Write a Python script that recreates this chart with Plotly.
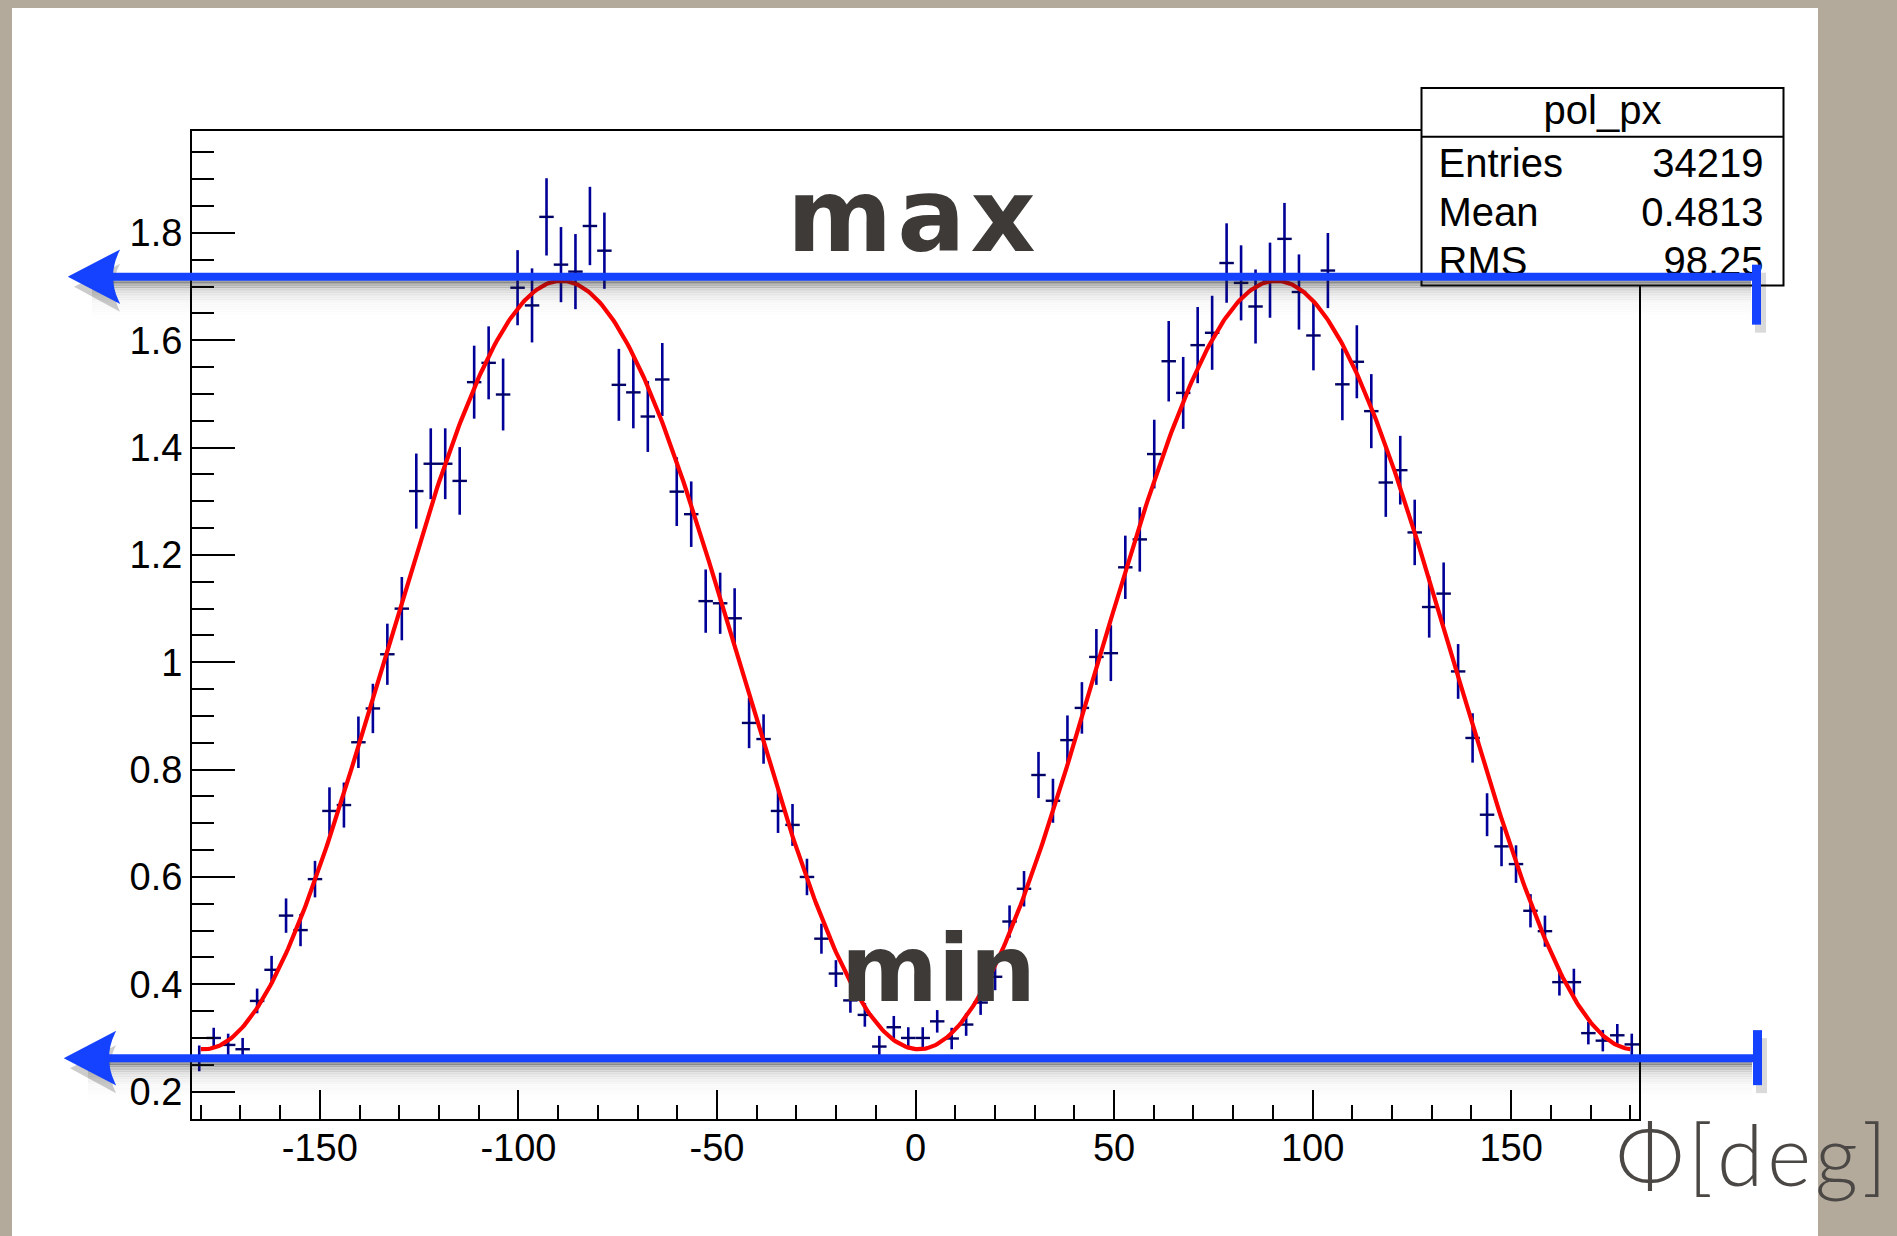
import numpy as np
import plotly.graph_objects as go

# ---------------- data ----------------
X_MIN, X_MAX, N_BINS = -182.2, 182.2, 100
Y_MIN, Y_MAX = 0.149, 1.990

values = [
    0.262, 0.300, 0.287, 0.279, 0.369, 0.427, 0.528, 0.501, 0.596, 0.723,
    0.734, 0.851, 0.914, 1.015, 1.100, 1.319, 1.370, 1.370, 1.338, 1.522,
    1.558, 1.499, 1.698, 1.665, 1.830, 1.741, 1.728, 1.813, 1.767, 1.517,
    1.503, 1.458, 1.527, 1.318, 1.276, 1.114, 1.110, 1.082, 0.887, 0.857,
    0.723, 0.697, 0.600, 0.485, 0.420, 0.370, 0.343, 0.284, 0.320, 0.300,
    0.300, 0.331, 0.299, 0.325, 0.366, 0.414, 0.517, 0.578, 0.790, 0.742,
    0.855, 0.915, 1.010, 1.017, 1.177, 1.229, 1.388, 1.561, 1.502, 1.591,
    1.614, 1.744, 1.707, 1.663, 1.712, 1.789, 1.690, 1.609, 1.730, 1.518,
    1.560, 1.468, 1.335, 1.358, 1.242, 1.103, 1.128, 0.983, 0.859, 0.716,
    0.657, 0.624, 0.537, 0.499, 0.404, 0.404, 0.309, 0.295, 0.305, 0.288,
]
errors = [
    0.024, 0.019, 0.021, 0.021, 0.023, 0.026, 0.032, 0.030, 0.034, 0.044,
    0.042, 0.048, 0.046, 0.057, 0.059, 0.070, 0.066, 0.066, 0.063, 0.068,
    0.068, 0.067, 0.070, 0.069, 0.072, 0.070, 0.070, 0.073, 0.071, 0.067,
    0.067, 0.066, 0.068, 0.064, 0.061, 0.059, 0.057, 0.056, 0.047, 0.046,
    0.041, 0.039, 0.034, 0.028, 0.025, 0.023, 0.022, 0.020, 0.021, 0.020,
    0.020, 0.021, 0.020, 0.021, 0.023, 0.025, 0.030, 0.033, 0.043, 0.041,
    0.046, 0.048, 0.052, 0.052, 0.059, 0.060, 0.064, 0.075, 0.067, 0.071,
    0.069, 0.074, 0.070, 0.069, 0.070, 0.067, 0.070, 0.065, 0.070, 0.067,
    0.068, 0.069, 0.064, 0.064, 0.061, 0.057, 0.058, 0.051, 0.046, 0.040,
    0.037, 0.035, 0.031, 0.029, 0.025, 0.025, 0.021, 0.020, 0.021, 0.020,
]

# fit function parameters  f = p0 - p1*cos(2*(phi - p2))
FIT_P0, FIT_P1, FIT_P2 = 0.995, 0.716, 0.8
FIT_RANGE = (-180, 180)

x_tickvals = [-150, -100, -50, 0, 50, 100, 150]
x_ticktext = ["-150", "-100", "-50", "0", "50", "100", "150"]
y_tickvals = [0.2, 0.4, 0.6, 0.8, 1.0, 1.2, 1.4, 1.6, 1.8]
y_ticktext = ["0.2", "0.4", "0.6", "0.8", "1", "1.2", "1.4", "1.6", "1.8"]

stats_title = "pol_px"
stats_rows = [("Entries", "34219"), ("Mean", "0.4813"), ("RMS", "98.25")]

MAX_LEVEL, MIN_LEVEL = 1.7186, 0.2624

# ---------------- geometry ----------------
W, H = 1897, 1236
PLOT_L, PLOT_R, PLOT_T, PLOT_B = 192, 1639, 131, 1119
PLOT_W, PLOT_H = PLOT_R - PLOT_L, PLOT_B - PLOT_T


def X(p):
    return (p - PLOT_L) / PLOT_W


def Y(p):
    return (PLOT_B - p) / PLOT_H


bin_width = (X_MAX - X_MIN) / N_BINS
bin_centers = [X_MIN + (i + 0.5) * bin_width for i in range(N_BINS)]

phi_fit = np.linspace(FIT_RANGE[0], FIT_RANGE[1], 721)
fit_y = FIT_P0 - FIT_P1 * np.cos(np.radians(2 * (phi_fit - FIT_P2)))

DATA_COLOR = "#000099"
BLUE = "#1442ff"
BG = "#b4aa9b"
TEXT_DARK = "#3d3a37"
FONT = "Liberation Sans, Arial, Helvetica, sans-serif"

fig = go.Figure()
fig.add_trace(go.Scatter(
    x=bin_centers, y=values, mode="markers",
    marker=dict(size=1, color=DATA_COLOR, opacity=0),
    error_y=dict(type="data", array=errors, color=DATA_COLOR, thickness=2.6, width=0),
    error_x=dict(type="data", array=[bin_width / 2] * N_BINS, color="#000066",
                 thickness=2.4, width=0),
    hoverinfo="skip", showlegend=False,
))
fig.add_trace(go.Scatter(
    x=phi_fit, y=fit_y, mode="lines",
    line=dict(color="#ff0000", width=4.2),
    hoverinfo="skip", showlegend=False,
))

shapes = []
# white sheet
shapes.append(dict(type="rect", xref="paper", yref="paper", layer="below",
                   x0=X(12), x1=X(1818), y0=Y(1240), y1=Y(8),
                   fillcolor="white", line=dict(width=0)))

# stats box
BOX_L, BOX_R, BOX_T, BOX_B, BOX_SEP = 1421.5, 1783.5, 88, 285.5, 136.7
shapes.append(dict(type="rect", xref="paper", yref="paper", layer="above",
                   x0=X(BOX_L), x1=X(BOX_R), y0=Y(BOX_B), y1=Y(BOX_T),
                   fillcolor="white", line=dict(color="black", width=2)))
shapes.append(dict(type="line", xref="paper", yref="paper", layer="above",
                   x0=X(BOX_L), x1=X(BOX_R), y0=Y(BOX_SEP), y1=Y(BOX_SEP),
                   line=dict(color="black", width=2)))
shapes.append(dict(type="rect", xref="paper", yref="paper", layer="above",
                   x0=X(BOX_L), x1=X(BOX_R), y0=Y(BOX_SEP - 6), y1=Y(BOX_T - 6),
                   fillcolor="rgba(0,0,0,0)", line=dict(width=0),
                   label=dict(text=stats_title, textposition="middle center",
                              font=dict(family=FONT, size=40, color="black"))))
row_centers = [158.5, 208.0, 257.0]
for (name, val), yc in zip(stats_rows, row_centers):
    for txt, pos, pad in [(name, "middle left", 14), (val, "middle right", 17)]:
        shapes.append(dict(type="rect", xref="paper", yref="paper", layer="above",
                           x0=X(BOX_L), x1=X(BOX_R), y0=Y(yc + 22), y1=Y(yc - 22),
                           fillcolor="rgba(0,0,0,0)", line=dict(width=0),
                           label=dict(text=txt, textposition=pos, padding=pad,
                                      font=dict(family=FONT, size=40, color="black"))))


def add_arrow(level, x_tip, x_end, tee_up, tee_down):
    yc = (level - Y_MIN) / (Y_MAX - Y_MIN)

    def yp(d):
        return yc - d / PLOT_H

    # soft shadow: stacked translucent strokes fading downward
    for k in range(16):
        off = 5 + 2.4 * k
        a = 0.42 * np.exp(-k / 3.2)
        shapes.append(dict(type="line", xref="paper", yref="paper", layer="above",
                           x0=X(x_tip + 22), x1=X(x_end - 6), y0=yp(off), y1=yp(off),
                           line=dict(color=f"rgba(30,30,30,{a:.3f})", width=3)))
    # arrowhead shadow
    sh = (f"M {X(x_tip + 4)},{yp(10)} L {X(x_tip + 50)},{yp(-13)} "
          f"Q {X(x_tip + 38)},{yp(10)} {X(x_tip + 50)},{yp(35)} Z")
    shapes.append(dict(type="path", xref="paper", yref="paper", layer="above", path=sh,
                       fillcolor="rgba(0,0,0,0.2)", line=dict(width=0)))
    # tee shadow
    shapes.append(dict(type="rect", xref="paper", yref="paper", layer="above",
                       x0=X(x_end - 2), x1=X(x_end + 9), y0=yp(tee_down + 8), y1=yp(-tee_up + 8),
                       fillcolor="rgba(0,0,0,0.15)", line=dict(width=0)))
    # main line
    shapes.append(dict(type="line", xref="paper", yref="paper", layer="above",
                       x0=X(x_tip + 20), x1=X(x_end), y0=yc, y1=yc,
                       line=dict(color=BLUE, width=8)))
    # arrowhead
    head = (f"M {X(x_tip)},{yc} L {X(x_tip + 48)},{yp(-25)} "
            f"Q {X(x_tip + 36)},{yc} {X(x_tip + 48)},{yp(25)} Z")
    shapes.append(dict(type="path", xref="paper", yref="paper", layer="above", path=head,
                       fillcolor=BLUE, line=dict(color=BLUE, width=2)))
    # end bar
    shapes.append(dict(type="rect", xref="paper", yref="paper", layer="above",
                       x0=X(x_end - 5), x1=X(x_end + 4), y0=yp(tee_down), y1=yp(-tee_up),
                       fillcolor=BLUE, line=dict(width=0)))


add_arrow(MAX_LEVEL, 70, 1757, 12, 48)
add_arrow(MIN_LEVEL, 66, 1758, 28, 27)

annotations = [
    dict(text='<span style="letter-spacing:5px">max</span>', xref="paper", yref="paper",
         x=X(913.5), y=Y(216),
         xanchor="center", yanchor="middle", showarrow=False,
         font=dict(family="DejaVu Sans", size=101, color=TEXT_DARK, weight="bold")),
    dict(text="min", xref="paper", yref="paper", x=X(938.7), y=Y(969.4),
         xanchor="center", yanchor="middle", showarrow=False,
         font=dict(family="DejaVu Sans", size=93, color=TEXT_DARK, weight="bold")),
    dict(text='<span style="letter-spacing:4px">Φ[deg]</span>', xref="paper", yref="paper",
         x=X(1753), y=Y(1153),
         xanchor="center", yanchor="middle", showarrow=False,
         font=dict(family="Lato, Open Sans, sans-serif", size=84, color="#4a4744", weight=300)),
]

fig.update_layout(
    width=W, height=H,
    margin=dict(l=PLOT_L, r=W - PLOT_R, t=PLOT_T, b=H - PLOT_B, pad=0),
    paper_bgcolor=BG, plot_bgcolor="white",
    shapes=shapes, annotations=annotations, showlegend=False,
    xaxis=dict(range=[X_MIN, X_MAX], tickvals=x_tickvals, ticktext=x_ticktext,
               ticks="inside", ticklen=29, tickwidth=2, tickcolor="black",
               minor=dict(dtick=10, tick0=0, ticks="inside", ticklen=14, tickwidth=2,
                          tickcolor="black", showgrid=False),
               showline=True, linecolor="black", linewidth=2, mirror=True,
               showgrid=False, zeroline=False, ticklabelstandoff=-6,
               tickfont=dict(family=FONT, size=38, color="black")),
    yaxis=dict(range=[Y_MIN, Y_MAX], tickvals=y_tickvals, ticktext=y_ticktext,
               ticks="inside", ticklen=43, tickwidth=2, tickcolor="black",
               minor=dict(dtick=0.05, tick0=0, ticks="inside", ticklen=22, tickwidth=2,
                          tickcolor="black", showgrid=False),
               showline=True, linecolor="black", linewidth=2, mirror=True,
               showgrid=False, zeroline=False, ticklabelstandoff=0,
               tickfont=dict(family=FONT, size=38, color="black")),
)

fig.write_html("out.html")
